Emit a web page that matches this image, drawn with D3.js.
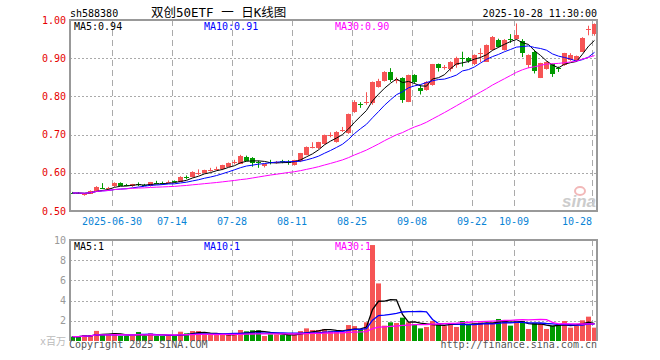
<!DOCTYPE html>
<html>
<head>
<meta charset="utf-8">
<script src="https://cdn.jsdelivr.net/npm/d3@7/dist/d3.min.js"></script>
<style>
body { margin: 0; background: #fff; }
text { font-family: "DejaVu Sans Mono", monospace; font-size: 10px; }
</style>
</head>
<body>
<div id="chart"></div>
<script>
// trading days, 2025
var dates = ['06-19','06-20','06-23','06-24','06-25','06-26','06-27','06-30',
	'07-01','07-02','07-03','07-04','07-07','07-08','07-09','07-10','07-11','07-14','07-15','07-16','07-17','07-18',
	'07-21','07-22','07-23','07-24','07-25','07-28','07-29','07-30','07-31',
	'08-01','08-04','08-05','08-06','08-07','08-08','08-11','08-12','08-13','08-14','08-15','08-18','08-19','08-20',
	'08-21','08-22','08-25','08-26','08-27','08-28','08-29',
	'09-01','09-02','09-03','09-04','09-05','09-08','09-09','09-10','09-11','09-12','09-15','09-16','09-17','09-18',
	'09-19','09-22','09-23','09-24','09-25','09-26','09-29','09-30',
	'10-09','10-10','10-13','10-14','10-15','10-16','10-17','10-20','10-21','10-22','10-23','10-24','10-27','10-28'];

var open = [.548,.548,.542,.546,.551,.561,.559,.564,.574,.569,.564,.570,.569,.565,.574,.573,.575,.578,.577,.588,.590,.598,
	.599,.606,.610,.609,.616,.628,.625,.642,.639,.627,.616,.629,.627,.631,.629,.620,.629,.648,.667,.664,.675,.699,.681,
	.712,.703,.760,.779,.783,.782,.825,.841,.865,.840,.847,.786,.856,.821,.817,.830,.884,.876,.873,.882,.900,
	.900,.884,.912,.891,.921,.948,.921,.951,.952,.945,.882,.915,.849,.872,.884,.874,.882,.895,.893,.917,.975,.962];
var high = [.550,.549,.546,.554,.565,.573,.563,.575,.575,.571,.571,.575,.571,.576,.579,.577,.580,.580,.591,.593,.604,.609,
	.608,.613,.616,.621,.627,.634,.647,.645,.641,.632,.624,.634,.631,.634,.633,.634,.652,.669,.680,.681,.700,.706,.709,
	.720,.755,.790,.785,.811,.839,.846,.866,.874,.850,.850,.857,.858,.830,.840,.885,.886,.882,.892,.904,.917,
	.903,.910,.926,.936,.958,.951,.950,.963,.991,.950,.910,.922,.888,.892,.886,.878,.914,.913,.907,.955,.985,.991];
var low = [.545,.545,.540,.545,.550,.558,.557,.563,.566,.565,.563,.565,.566,.564,.570,.569,.572,.574,.576,.583,.588,.594,
	.598,.603,.606,.607,.615,.622,.624,.630,.616,.613,.614,.622,.624,.625,.621,.619,.628,.646,.664,.662,.674,.693,.679,
	.707,.702,.757,.770,.778,.778,.823,.839,.838,.834,.783,.785,.834,.805,.815,.828,.865,.870,.865,.875,.878,
	.888,.882,.890,.890,.920,.928,.920,.940,.950,.903,.874,.860,.848,.870,.851,.864,.880,.893,.890,.916,.960,.959];
var close = [.547,.547,.545,.553,.564,.560,.560,.573,.567,.567,.570,.568,.567,.575,.573,.572,.576,.576,.590,.587,.603,.599,
	.607,.607,.611,.620,.626,.629,.645,.631,.625,.626,.622,.628,.628,.629,.628,.633,.651,.668,.668,.680,.699,.700,.708,
	.713,.754,.786,.778,.785,.838,.841,.865,.843,.842,.790,.856,.838,.812,.838,.884,.873,.877,.891,.900,.898,
	.891,.908,.913,.935,.956,.930,.948,.949,.962,.913,.908,.866,.887,.891,.858,.872,.913,.908,.906,.954,.976,.989];
// volume, millions
var volume = [.43,.43,.59,.59,1.0,.6,.66,.76,.5,.5,.5,.89,.5,.76,.5,.5,.5,.5,.92,.76,.99,.99,
	.59,.59,.59,.66,.66,.66,1.09,.96,1.06,1.06,.5,.66,.66,.59,.59,.59,.99,1.25,1.09,1.09,1.19,.99,.92,
	.86,1.58,1.48,1.15,1.85,9.5,5.7,1.52,1.85,1.78,2.31,1.85,1.65,1.25,1.39,1.98,1.65,1.48,1.72,1.39,1.98,
	1.65,1.72,1.85,1.72,1.85,2.18,2.05,1.52,1.85,1.98,1.19,1.78,1.72,1.19,1.52,1.58,1.98,1.32,1.52,2.05,2.41,1.32];

var xTickDates = ['06-30','07-14','07-28','08-11','08-25','09-08','09-22','10-09','10-28'];
var xTickLabels = ['2025-06-30','07-14','07-28','08-11','08-25','09-08','09-22','10-09','10-28'];
var priceTicks = [0.5, 0.6, 0.7, 0.8, 0.9, 1.0];
var volTicks = [2, 4, 6, 8, 10];
var maLabels = ['MA5:0.94', 'MA10:0.91', 'MA30:0.90'];
var volMaLabels = ['MA5:1', 'MA10:1', 'MA30:1'];
var maColors = ['#000000', '#0000ff', '#ff00ff'];
var maPeriods = [5, 10, 30];

var UP = '#f65555', DOWN = '#009a00', FRAME = '#999999', GRID = '#aaaaaa';

var width = 660, height = 360;
var left = 70, right = 597;
var mainTop = 20, mainBottom = 211;
var volTop = 240, volBottom = 341;

var svg = d3.select('#chart')
	.append('svg')
	.attr('width', width)
	.attr('height', height);

var x = d3.scaleBand().domain(dates).range([left, right]).paddingInner(1 / 6).paddingOuter(0);
var y = d3.scaleLinear().domain([0.5, 1.0]).range([mainBottom, mainTop]);
var yv = d3.scaleLinear().domain([0, 10]).range([volBottom, volTop]);
var bw = x.bandwidth();

function movingAvg(arr, n) {
	return arr.map(function (d, i) {
		return d3.mean(arr.slice(Math.max(0, i - n + 1), i + 1));
	});
}

// header
svg.append('text').attr('x', 70).attr('y', 17).text('sh588380');
svg.append('text').attr('x', 151).attr('y', 17)
	.style('font-size', '12.5px')
	.style('font-family', '"DejaVu Sans Mono", "Noto Sans CJK SC", monospace')
	.text('双创50ETF 一 日K线图');
svg.append('text').attr('x', right).attr('y', 17).attr('text-anchor', 'end').text('2025-10-28 11:30:00');

// grids
svg.selectAll('.hgrid').data(priceTicks.slice(1, -1)).enter().append('line')
	.attr('x1', left).attr('x2', right)
	.attr('y1', function (d) { return Math.round(y(d)) + 0.5; })
	.attr('y2', function (d) { return Math.round(y(d)) + 0.5; })
	.attr('stroke', GRID).attr('stroke-dasharray', '2,2');
svg.selectAll('.vgrid').data(volTicks.slice(0, -1)).enter().append('line')
	.attr('x1', left).attr('x2', right)
	.attr('y1', function (d) { return Math.round(yv(d)) + 0.5; })
	.attr('y2', function (d) { return Math.round(yv(d)) + 0.5; })
	.attr('stroke', GRID).attr('stroke-dasharray', '2,2');

[[mainTop, mainBottom], [volTop, volBottom]].forEach(function (r) {
	svg.selectAll(null).data(xTickDates).enter().append('line')
		.attr('x1', function (d) { return x(d) + 0.5; })
		.attr('x2', function (d) { return x(d) + 0.5; })
		.attr('y1', r[0]).attr('y2', r[1])
		.attr('stroke', GRID).attr('stroke-dasharray', '6,4');
});

// sina watermark
svg.append('ellipse').attr('cx', 580).attr('cy', 191).attr('rx', 5).attr('ry', 4)
	.attr('fill', 'none').attr('stroke', '#f2b8b8').attr('stroke-width', 2);
svg.append('text').attr('x', 596).attr('y', 207).attr('text-anchor', 'end')
	.style('font-family', '"Liberation Sans", Arial, sans-serif')
	.style('font-size', '17px').style('font-weight', 'bold').style('font-style', 'italic')
	.attr('fill', '#cccccc').text('sina');

// candles
var candle = svg.selectAll('.candle').data(dates).enter().append('g');
candle.append('line')
	.attr('x1', function (d) { return x(d) + bw / 2; })
	.attr('x2', function (d) { return x(d) + bw / 2; })
	.attr('y1', function (d, i) { return y(high[i]); })
	.attr('y2', function (d, i) { return y(low[i]); })
	.attr('stroke', function (d, i) { return close[i] >= open[i] ? UP : DOWN; });
candle.append('rect')
	.attr('x', function (d) { return x(d); })
	.attr('width', bw)
	.attr('y', function (d, i) { return Math.round(y(Math.max(open[i], close[i]))); })
	.attr('height', function (d, i) { return Math.max(1, Math.round(Math.abs(y(open[i]) - y(close[i])))); })
	.attr('fill', function (d, i) { return close[i] >= open[i] ? UP : DOWN; });

// volume bars
svg.selectAll('.vol').data(dates).enter().append('rect')
	.attr('x', function (d) { return x(d); })
	.attr('width', bw)
	.attr('y', function (d, i) { return yv(volume[i]); })
	.attr('height', function (d, i) { return volBottom - yv(volume[i]); })
	.attr('fill', function (d, i) { return close[i] >= open[i] ? UP : DOWN; });

// moving averages
maPeriods.forEach(function (n, k) {
	var pm = movingAvg(close, n), vm = movingAvg(volume, n);
	var lp = d3.line().x(function (d, i) { return x(dates[i]) + bw / 2; }).y(function (d) { return y(d); });
	var lv = d3.line().x(function (d, i) { return x(dates[i]) + bw / 2; }).y(function (d) { return yv(d); });
	svg.append('path').attr('d', lp(pm)).attr('fill', 'none').attr('stroke', maColors[k]).attr('stroke-width', 1);
	svg.append('path').attr('d', lv(vm)).attr('fill', 'none').attr('stroke', maColors[k]).attr('stroke-width', 1.3);
});

// frames
svg.append('rect').attr('x', left).attr('y', mainTop).attr('width', right - left).attr('height', mainBottom - mainTop)
	.attr('fill', 'none').attr('stroke', FRAME).attr('stroke-width', 2);
svg.append('path').attr('d', 'M' + left + ',' + volBottom + 'V' + volTop + 'H' + right + 'V' + volBottom)
	.attr('fill', 'none').attr('stroke', FRAME).attr('stroke-width', 2);

// MA labels
var maX = [74, 204, 335];
maLabels.forEach(function (t, k) {
	svg.append('text').attr('x', maX[k]).attr('y', 30).attr('fill', maColors[k]).text(t);
	svg.append('text').attr('x', maX[k]).attr('y', 250).attr('fill', maColors[k]).text(volMaLabels[k]);
});

// axes labels
svg.selectAll('.py').data(priceTicks).enter().append('text')
	.attr('x', 66).attr('y', function (d) { return y(d); })
	.attr('dy', '0.35em').attr('text-anchor', 'end').attr('fill', '#e60000')
	.text(function (d) { return d.toFixed(2); });
svg.selectAll('.vy').data(volTicks).enter().append('text')
	.attr('x', 66).attr('y', function (d) { return yv(d); })
	.attr('dy', '0.35em').attr('text-anchor', 'end').attr('fill', '#999999')
	.text(function (d) { return d; });
svg.append('text').attr('x', 66).attr('y', 345).attr('text-anchor', 'end').attr('fill', '#bbbbbb')
	.style('font-family', '"DejaVu Sans Mono", "Noto Sans CJK SC", monospace').text('x百万');
// last date label sits left of its tick so it stays inside the frame
svg.selectAll('.xl').data(xTickDates).enter().append('text')
	.attr('x', function (d) { return x(d); })
	.attr('y', 225)
	.attr('text-anchor', function (d, i) { return i === xTickDates.length - 1 ? 'end' : 'middle'; })
	.attr('fill', '#0a84d6')
	.text(function (d, i) { return xTickLabels[i]; });

svg.append('text').attr('x', 69).attr('y', 348).attr('fill', '#555555').text('Copyright 2025 SINA.COM');
svg.append('text').attr('x', right).attr('y', 348).attr('text-anchor', 'end').attr('fill', '#555555').text('http://finance.sina.com.cn');
</script>
</body>
</html>
